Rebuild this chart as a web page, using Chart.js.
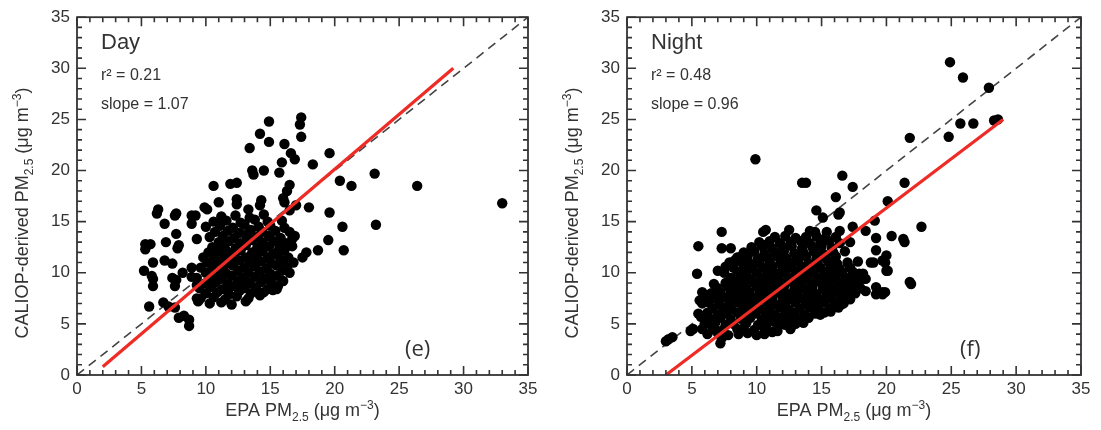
<!DOCTYPE html>
<html>
<head>
<meta charset="utf-8">
<script src="https://cdn.jsdelivr.net/npm/chart.js@4.4.1/dist/chart.umd.min.js"></script>
<style>
  body { margin: 0; background: #fff; }
  #wrap { display: flex; width: 1101px; height: 430px; }
  canvas { display: block; }
</style>
</head>
<body>
<div id="wrap">
  <canvas id="dayChart" width="550" height="430"></canvas>
  <canvas id="nightChart" width="551" height="430"></canvas>
</div>
<script>
// axis ticks (both axes, both panels)
const tickValues = [0, 5, 10, 15, 20, 25, 30, 35]

// panel (e): Day  -- [EPA PM2.5, CALIOP PM2.5]
const dayPoints = [
  [33.0,16.8],[26.4,18.5],[23.1,19.7],[21.3,18.5],[20.4,19.0],[19.6,21.7],[18.3,20.6],[19.6,15.9],
  [17.4,25.2],[17.3,24.5],[17.4,23.3],[14.9,24.8],[14.2,23.6],[14.9,22.8],[13.4,22.2],[16.1,22.6],
  [16.6,21.7],[16.9,21.1],[15.9,20.8],[15.7,19.8],[14.5,20.0],[13.6,20.0],[13.7,19.6],[12.4,18.8],
  [11.9,18.7],[10.6,18.5],[16.5,18.6],[16.3,18.0],[16.0,17.3],[16.1,16.9],[12.4,17.2],[12.4,16.7],
  [14.3,17.1],[14.2,16.6],[13.3,16.2],[17.0,16.6],[16.5,16.1],[18.0,16.4],[6.3,16.2],[6.2,15.8],
  [7.7,15.8],[9.2,15.6],[10.1,16.2],[11.0,16.9],[9.9,16.4],[8.9,15.6],[7.6,15.6],
  [23.2,14.7],[20.6,14.5],[20.7,12.2],[19.5,13.2],[18.7,12.2],[17.8,12.0],[17.5,11.5],[15.5,8.4],
  [8.7,4.8],[8.7,5.4],[8.3,5.8],[7.9,5.6],[5.6,6.7],[5.2,10.2],[5.3,12.8],[5.3,12.3],[5.7,12.8],
  [5.9,11.0],[5.9,9.4],[5.9,8.7],[6.8,11.2],[7.4,10.9],[6.9,13.0],[7.8,12.4],[7.4,9.5],[7.6,8.7],
  [6.7,7.1],[7.1,6.7],[7.6,6.6],[8.9,10.5],[8.2,10.0],[9.4,7.2],[6.8,14.8],[8.9,14.8],[7.7,13.8],
  [7.9,12.7],[9.3,13.3],[5.8,9.7],[7.7,9.3],[8.9,9.6],[9.3,8.8],[9.3,7.5],[16.7,13.3],[16.0,11.2],
  [15.6,13.0],[15.1,11.7],[11.6,8.3],[12.5,8.5],
  [10.3,7.0],[11.2,7.1],[12.0,6.9],[13.1,7.2],
  [9.6,7.5],[10.6,7.6],[11.5,7.4],[12.4,7.7],[13.3,7.5],[14.2,7.8],
  [10.0,8.0],[10.9,8.1],[11.8,7.9],[12.6,8.2],[13.5,8.0],[14.5,8.1],[15.2,8.3],
  [9.5,8.5],[10.4,8.6],[11.3,8.4],[12.2,8.7],[13.0,8.5],[13.9,8.6],[14.8,8.4],[15.6,8.7],
  [10.0,9.0],[10.8,9.1],[11.7,8.9],[12.5,9.2],[13.4,9.0],[14.3,9.1],[15.1,8.9],[16.0,9.2],
  [9.3,9.5],[10.4,9.6],[11.2,9.4],[12.0,9.7],[12.9,9.5],[13.8,9.6],[14.6,9.4],[15.5,9.7],
  [10.0,10.0],[10.8,10.1],[11.6,9.9],[12.5,10.2],[13.3,10.0],[14.2,10.1],[15.0,9.9],[15.9,10.2],[16.5,10.0],
  [9.6,10.5],[10.5,10.6],[11.3,10.4],[12.1,10.7],[13.0,10.5],[13.8,10.6],[14.7,10.4],[15.5,10.7],[16.3,10.5],
  [10.1,11.0],[10.9,11.1],[11.7,10.9],[12.6,11.2],[13.4,11.0],[14.3,11.1],[15.1,10.9],[16.8,11.0],
  [9.8,11.5],[10.6,11.6],[11.4,11.4],[12.2,11.7],[13.1,11.5],[13.9,11.6],[14.8,11.4],[15.6,11.7],[16.4,11.5],
  [10.2,12.0],[11.0,12.1],[11.9,11.9],[12.7,12.2],[13.6,12.0],[14.4,12.1],[15.3,11.9],[16.1,12.2],
  [10.5,12.5],[11.4,12.6],[12.3,12.4],[13.1,12.7],[14.0,12.5],[14.9,12.6],[15.7,12.4],[16.7,12.6],
  [11.0,13.0],[11.8,13.1],[12.7,12.9],[13.6,13.2],[14.4,13.0],[15.3,13.1],[16.2,12.9],
  [10.3,13.5],[11.3,13.6],[12.2,13.4],[13.1,13.7],[14.0,13.5],[14.9,13.6],[15.8,13.4],[16.9,13.6],
  [10.7,14.0],[11.7,14.1],[12.6,13.9],[13.5,14.2],[14.4,14.0],[15.4,14.1],[16.5,14.0],
  [10.0,14.5],[11.1,14.6],[12.1,14.4],[13.0,14.7],[14.1,14.5],[15.0,14.6],[16.1,14.4],
  [10.6,15.0],[11.6,15.1],[12.7,14.9],[13.8,15.2],[14.8,15.0],[15.9,15.1],
  [11.2,15.5],[12.3,15.6],[13.4,15.4],[14.5,15.7],
  [11.0,9.4],[13.0,9.3],[14.9,9.3],[12.1,11.3],[14.0,11.3],[13.2,13.3],[11.5,12.3],[15.8,11.2]
]
const dayFitX = [2.0, 29.2]
const dayFitY = [0.8, 30.0]

// panel (f): Night
const nightPoints = [
  [24.9,30.6],[25.9,29.1],[27.9,28.1],[24.8,23.3],[25.7,24.6],[26.7,24.6],[28.3,24.9],[28.6,25.0],
  [21.8,23.2],[21.4,18.8],[20.1,17.0],[9.9,21.1],[13.8,18.8],[13.5,18.8],[16.6,19.5],[17.4,18.4],
  [16.1,17.4],[14.6,16.1],[15.1,15.4],[16.4,15.9],[16.3,15.7],[10.7,14.2],[12.5,14.2],[14.1,14.1],
  [14.5,14.0],[15.4,14.0],[16.4,14.1],[17.4,14.5],[18.4,14.1],[19.1,15.1],[19.2,13.4],[20.4,13.6],
  [21.3,13.3],[22.7,14.5],[21.4,13.0],[21.9,8.9],[19.9,11.0],[20.0,10.2],[19.7,8.1],[18.8,11.0],
  [19.2,12.2],[5.5,12.6],[5.4,9.9],[4.9,4.3],[5.1,4.5],[3.2,3.5],[3.5,3.7],[3.0,3.3],[7.3,14.0],
  [10.5,14.0],[7.3,12.4],[8.0,12.4],[10.6,12.7],[8.6,11.5],[5.8,8.1],[5.6,7.3],[5.9,7.7],[17.8,9.0],
  [18.4,8.2],[19.2,7.9],[19.7,7.9],[7.2,3.1],[10.0,3.9],[11.6,4.3],[12.7,4.8],[14.9,5.9],[16.5,6.9],
  [21.8,9.1],[19.9,8.1],[19.2,8.6],[18.2,9.4],[17.9,9.9],[20.1,10.2],[19.7,11.2],[20.0,11.7],[19.0,11.0],
  [16.4,7.3],[17.0,7.6],[7.0,10.2],[7.6,10.6],[8.3,11.2],[6.7,8.9],[6.6,7.6],[5.7,5.7],[6.0,5.0],
  [6.8,4.4],[7.3,3.6],
  [6.2,4.0],[7.0,4.1],[7.8,3.9],[8.6,4.0],[9.3,4.1],[10.6,4.0],[11.2,4.2],
  [5.8,4.5],[6.6,4.6],[7.4,4.4],[8.5,4.5],[9.0,4.6],[9.8,4.4],[10.6,4.5],[11.6,4.7],[12.6,4.5],
  [6.0,5.0],[6.8,5.1],[7.6,4.9],[8.2,5.0],[9.2,5.1],[10.1,4.9],[10.8,5.0],[11.5,5.1],[12.2,4.9],[13.0,5.0],[13.6,5.1],
  [6.4,5.5],[7.2,5.6],[8.0,5.4],[8.8,5.5],[9.5,5.6],[10.4,5.4],[11.1,5.5],[11.9,5.6],[12.6,5.4],[13.3,5.5],[14.0,5.6],
  [5.5,6.0],[6.2,6.1],[7.0,5.9],[7.7,6.0],[8.5,6.1],[9.2,5.9],[9.9,6.0],[10.7,6.1],[11.4,5.9],[12.2,6.0],[12.9,6.1],[13.7,5.9],[14.5,6.0],[15.2,6.1],[15.7,6.2],
  [6.6,6.5],[7.4,6.6],[8.1,6.4],[8.9,6.5],[9.6,6.6],[10.3,6.4],[11.0,6.5],[11.8,6.6],[12.5,6.4],[13.3,6.5],[14.1,6.6],[14.8,6.4],[15.6,6.5],[16.3,6.6],
  [5.8,7.0],[6.3,7.1],[7.1,6.9],[7.9,7.0],[8.6,7.1],[9.3,6.9],[10.0,7.0],[10.8,7.1],[11.5,6.9],[12.2,7.0],[13.0,7.1],[13.8,6.9],[14.5,7.0],[15.2,7.1],[16.0,6.9],[16.7,7.0],
  [6.8,7.5],[7.5,7.6],[8.3,7.4],[9.0,7.5],[9.7,7.6],[10.5,7.4],[11.2,7.5],[12.0,7.6],[12.7,7.4],[13.5,7.5],[14.2,7.6],[14.9,7.4],[15.7,7.5],[16.5,7.6],[17.2,7.4],
  [6.5,8.0],[7.2,8.1],[8.0,7.9],[8.7,8.0],[9.4,8.1],[10.2,7.9],[10.9,8.0],[11.6,8.1],[12.4,7.9],[13.1,8.0],[13.9,8.1],[14.6,7.9],[15.4,8.0],[16.1,8.1],[16.9,7.9],[17.6,8.0],
  [7.0,8.5],[7.8,8.6],[8.5,8.4],[9.2,8.5],[10.0,8.6],[10.7,8.4],[11.4,8.5],[12.1,8.6],[12.9,8.4],[13.6,8.5],[14.3,8.6],[15.1,8.4],[15.8,8.5],[16.6,8.6],[17.3,8.4],[18.0,8.5],
  [7.6,9.0],[8.3,9.1],[9.0,8.9],[9.8,9.0],[10.5,9.1],[11.2,8.9],[12.0,9.0],[12.7,9.1],[13.4,8.9],[14.2,9.0],[14.9,9.1],[15.6,8.9],[16.4,9.0],[17.1,9.1],[17.8,8.9],
  [8.0,9.5],[8.8,9.6],[9.5,9.4],[10.3,9.5],[11.0,9.6],[11.7,9.4],[12.5,9.5],[13.2,9.6],[13.9,9.4],[14.7,9.5],[15.4,9.6],[16.1,9.4],[16.9,9.5],[17.6,9.6],[18.4,9.4],
  [7.5,10.0],[8.5,10.1],[9.2,9.9],[10.0,10.0],[10.8,10.1],[11.5,9.9],[12.2,10.0],[13.0,10.1],[13.7,9.9],[14.4,10.0],[15.2,10.1],[15.9,9.9],[16.6,10.0],[17.4,10.1],[18.2,9.9],
  [8.2,10.5],[9.0,10.6],[9.7,10.4],[10.5,10.5],[11.2,10.6],[12.0,10.4],[12.7,10.5],[13.5,10.6],[14.2,10.4],[14.9,10.5],[15.7,10.6],[16.4,10.4],[17.2,10.5],
  [7.9,11.0],[8.8,11.1],[9.5,10.9],[10.2,11.0],[11.0,11.1],[11.8,10.9],[12.5,11.0],[13.2,11.1],[14.0,10.9],[14.7,11.0],[15.5,11.1],[16.2,10.9],[17.0,11.0],[17.8,11.1],
  [8.5,11.5],[9.3,11.6],[10.1,11.4],[10.8,11.5],[11.6,11.6],[12.3,11.4],[13.1,11.5],[13.8,11.6],[14.6,11.4],[15.3,11.5],[16.1,11.6],
  [9.0,12.0],[9.8,12.1],[10.6,11.9],[11.4,12.0],[12.1,12.1],[12.9,11.9],[13.6,12.0],[14.4,12.1],[15.1,11.9],[15.9,12.0],[16.8,12.1],
  [9.6,12.5],[10.4,12.6],[11.2,12.4],[12.0,12.5],[12.7,12.6],[13.5,12.4],[14.3,12.5],[15.0,12.6],[15.8,12.4],
  [10.2,13.0],[11.0,13.1],[11.8,12.9],[12.6,13.0],[13.4,13.1],[14.1,12.9],[14.9,13.0],[15.6,13.1],[16.4,12.9],[17.2,13.0],
  [11.4,13.5],[12.2,13.6],[13.0,13.4],[13.8,13.5],[14.6,13.6],[15.3,13.4],[16.1,13.5]
]
const nightFitX = [3.0, 29.0]
const nightFitY = [0.0, 25.0]

const oneToOne = [0, 35]

const INK = '#333333'
const RED = '#ee2b24'

const panelDecor = {
  id: 'panelDecor',
  afterDatasetsDraw(chart, args, opts) {
    const { ctx, chartArea: a, scales: { x, y } } = chart
    ctx.save()
    ctx.strokeStyle = INK
    ctx.lineWidth = 1.8
    ctx.strokeRect(a.left, a.top, a.right - a.left, a.bottom - a.top)
    ctx.lineWidth = 1.6
    ctx.beginPath()
    for (let v = 0; v <= 35; v++) {
      let len = v % 5 === 0 ? 9 : 5
      let px = x.getPixelForValue(v)
      let py = y.getPixelForValue(v)
      ctx.moveTo(px, a.bottom); ctx.lineTo(px, a.bottom - len)
      ctx.moveTo(px, a.top); ctx.lineTo(px, a.top + len)
      ctx.moveTo(a.left, py); ctx.lineTo(a.left + len, py)
      ctx.moveTo(a.right, py); ctx.lineTo(a.right - len, py)
    }
    ctx.stroke()
    ctx.restore()
  },
  afterDraw(chart, args, opts) {
    const { ctx, chartArea: a } = chart
    ctx.save()
    ctx.fillStyle = INK
    ctx.textBaseline = 'alphabetic'
    ctx.textAlign = 'left'
    ctx.font = '22px "Liberation Sans", Arial, sans-serif'
    ctx.fillText(opts.label, a.left + 24, 49)
    ctx.font = '16px "Liberation Sans", Arial, sans-serif'
    ctx.fillText('r² = ' + opts.r2, a.left + 24, 80)
    ctx.fillText('slope = ' + opts.slope, a.left + 24, 109)
    ctx.font = '22px "Open Sans", sans-serif'
    ctx.fillText(opts.tag, opts.tagX, 356)

    let title = [
      { t: 'PM', s: 0 }, { t: '2.5', s: -1 }, { t: ' (μg m', s: 0 }, { t: '−3', s: 1 }, { t: ')', s: 0 }
    ]
    drawRich(ctx, [{ t: 'EPA ', s: 0 }].concat(title), (a.left + a.right) / 2, 416, 0)
    drawRich(ctx, [{ t: 'CALIOP-derived ', s: 0 }].concat(title), 28, 213, -Math.PI / 2)
    ctx.restore()
  }
}

function drawRich(ctx, parts, cx, cy, rot) {
  const big = '18px "Liberation Sans", Arial, sans-serif'
  const small = '12px "Liberation Sans", Arial, sans-serif'
  let total = 0
  parts.forEach(p => { ctx.font = p.s ? small : big; p.w = ctx.measureText(p.t).width; total += p.w })
  ctx.save()
  ctx.translate(cx, cy)
  ctx.rotate(rot)
  let xx = -total / 2
  parts.forEach(p => {
    ctx.font = p.s ? small : big
    let dy = p.s === -1 ? 5 : p.s === 1 ? -7 : 0
    ctx.fillText(p.t, xx, dy)
    xx += p.w
  })
  ctx.restore()
}

function makePanel(id, points, fitX, fitY, opts, rightPad) {
  let tickFont = { family: '"Liberation Sans", Arial, sans-serif', size: 17 }
  let axis = (pos, fit) => ({
    type: 'linear', position: pos, min: 0, max: 35,
    grid: { display: false, drawTicks: false },
    border: { display: false },
    afterBuildTicks: s => { s.ticks = tickValues.map(v => ({ value: v })) },
    afterFit: fit,
    ticks: { color: INK, font: tickFont, padding: pos === 'left' ? 7 : 4, maxRotation: 0 }
  })
  return new Chart(document.getElementById(id), {
    type: 'scatter',
    data: {
      datasets: [
        {
          data: fitX.map((v, i) => ({ x: v, y: fitY[i] })),
          showLine: true, borderColor: RED, borderWidth: 3.2, pointRadius: 0, order: 0
        },
        {
          data: points.map(p => ({ x: p[0], y: p[1] })),
          backgroundColor: '#000', borderWidth: 0, pointRadius: 5.2, order: 1
        },
        {
          data: oneToOne.map(v => ({ x: v, y: v })),
          showLine: true, borderColor: '#444', borderWidth: 1.6, borderDash: [9, 6],
          pointRadius: 0, order: 2
        }
      ]
    },
    options: {
      responsive: false,
      animation: false,
      devicePixelRatio: 1,
      layout: { padding: { top: 16, right: rightPad, left: 0, bottom: 0 } },
      scales: {
        x: axis('bottom', s => { s.height = 55 }),
        y: axis('left', s => { s.width = 77 })
      },
      plugins: {
        legend: { display: false },
        tooltip: { enabled: false },
        panelDecor: opts
      }
    },
    plugins: [panelDecor]
  })
}

makePanel('dayChart', dayPoints, dayFitX, dayFitY,
  { label: 'Day', r2: '0.21', slope: '1.07', tag: '(e)', tagX: 405 }, 22)
makePanel('nightChart', nightPoints, nightFitX, nightFitY,
  { label: 'Night', r2: '0.48', slope: '0.96', tag: '(f)', tagX: 410 }, 20)
</script>
</body>
</html>
